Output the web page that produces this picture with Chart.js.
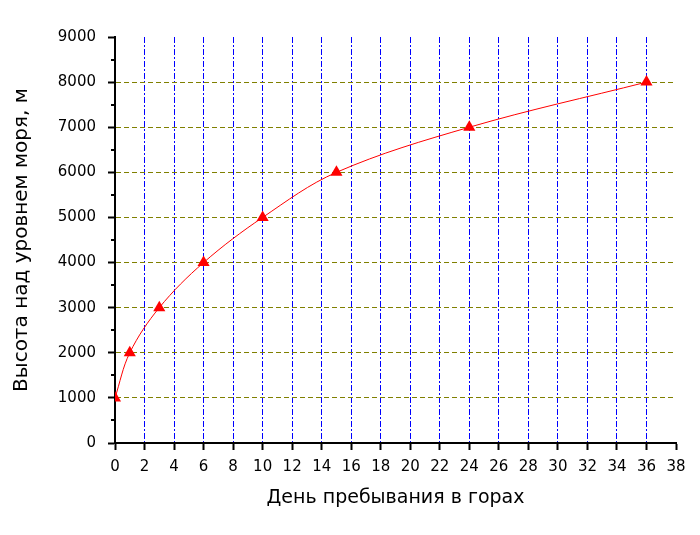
<!DOCTYPE html>
<html>
<head>
<meta charset="utf-8">
<script src="https://cdn.jsdelivr.net/npm/chart.js@4/dist/chart.umd.min.js"></script>
<style>
  html, body { margin: 0; padding: 0; background: #ffffff; }
  #c { display: block; }
</style>
</head>
<body>
<canvas id="c" width="700" height="535"></canvas>
<script>
// ---- data ----
const days = [0, 1, 3, 6, 10, 15, 24, 36];
const heights = [1000, 2000, 3000, 4000, 5000, 6000, 7000, 8000];
const xTitle = 'День пребывания в горах';
const yTitle = 'Высота над уровнем моря, м';
const xRange = [0, 38];
const xStep = 2;
const yRange = [0, 9000];
const yStep = 1000;
const yMinorStep = 500;

const points = days.map((d, i) => ({ x: d, y: heights[i] }));
const FONT = '"DejaVu Sans", sans-serif';

const minorTicks = {
  id: 'minorTicks',
  afterDraw(chart) {
    const y = chart.scales.y;
    const ctx = chart.ctx;
    const left = chart.chartArea.left;
    ctx.save();
    ctx.strokeStyle = '#000';
    ctx.lineWidth = 2;
    for (let v = yRange[0] + yMinorStep; v < yRange[1]; v += yStep) {
      const py = Math.round(y.getPixelForValue(v));
      ctx.beginPath();
      ctx.moveTo(left - 4, py);
      ctx.lineTo(left, py);
      ctx.stroke();
    }
    ctx.restore();
  }
};

new Chart(document.getElementById('c'), {
  type: 'scatter',
  data: {
    datasets: [{
      data: points,
      showLine: true,
      borderColor: '#ff0000',
      borderWidth: 1,
      tension: 0.35,
      pointStyle: 'triangle',
      pointRadius: 7,
      pointHoverRadius: 7,
      pointBackgroundColor: '#ff0000',
      pointBorderColor: '#ff0000',
      pointBorderWidth: 0,
      clip: 0
    }]
  },
  options: {
    responsive: false,
    animation: false,
    devicePixelRatio: 1,
    layout: { padding: { left: 0, right: 24, top: 37, bottom: 0 } },
    plugins: {
      legend: { display: false },
      tooltip: { enabled: false }
    },
    scales: {
      x: {
        type: 'linear',
        min: xRange[0], max: xRange[1],
        afterFit(s) { s.height = 92; },
        ticks: {
          stepSize: xStep,
          color: '#000',
          padding: 8,
          maxRotation: 0,
          autoSkip: false,
          callback: (v) => String(v),
          font: { family: FONT, size: 15 }
        },
        grid: {
          color: (c) => (c.tick && (c.tick.value === xRange[0] || c.tick.value === xRange[1])) ? 'rgba(0,0,0,0)' : '#0000ff',
          lineWidth: 1,
          tickLength: 7,
          tickWidth: 2,
          tickColor: '#000'
        },
        border: { display: true, color: '#000', width: 2, dash: [6, 2, 2, 2] },
        title: {
          display: true,
          text: xTitle,
          color: '#000',
          font: { family: FONT, size: 19 },
          padding: { top: 0, bottom: 26 }
        }
      },
      y: {
        type: 'linear',
        min: yRange[0], max: yRange[1],
        afterFit(s) { s.width = 115; },
        ticks: {
          stepSize: yStep,
          color: '#000',
          padding: 12,
          callback: (v) => String(v),
          font: { family: FONT, size: 15 }
        },
        grid: {
          color: (c) => (c.tick && (c.tick.value === yRange[0] || c.tick.value === yRange[1])) ? 'rgba(0,0,0,0)' : '#808000',
          lineWidth: 1,
          tickLength: 7,
          tickWidth: 2,
          tickColor: '#000'
        },
        border: { display: true, color: '#000', width: 2, dash: [5, 3] },
        title: {
          display: true,
          text: yTitle,
          color: '#000',
          font: { family: FONT, size: 20 },
          padding: { top: 10, bottom: 0 }
        }
      }
    }
  },
  plugins: [minorTicks]
});
</script>
</body>
</html>
